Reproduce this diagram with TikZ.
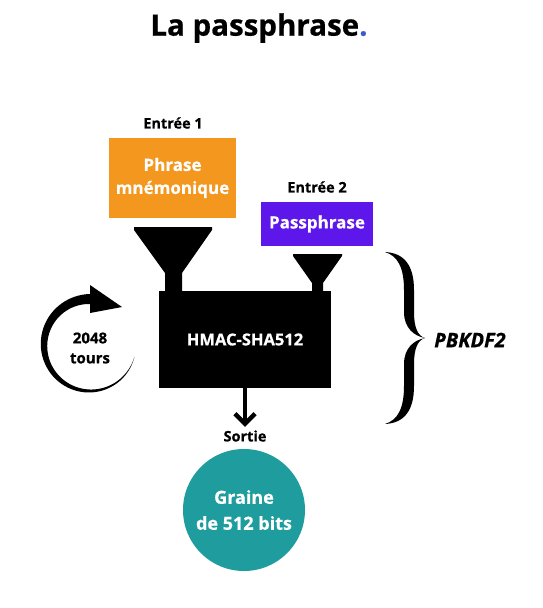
\documentclass[tikz,border=0pt]{standalone}
\usepackage{fontspec}
\setmainfont{Open Sans}[BoldFeatures={FakeBold=0.6}, BoldItalicFeatures={FakeBold=0.6}]
\usetikzlibrary{arrows.meta}
\definecolor{orangephrase}{HTML}{F4971F}
\definecolor{violetpass}{HTML}{5E17EB}
\definecolor{tealgraine}{HTML}{1E9C9E}
\definecolor{bleupoint}{HTML}{3B5BC8}

\begin{document}
\begin{tikzpicture}[x=1pt, y=1pt,
		entree/.style={font=\bfseries\fontsize{14.5}{16}\selectfont},
		boite/.style={fill=#1, text=white, align=center, inner sep=0pt, font=\bfseries\fontsize{17}{23}\selectfont}]
			%%%%% START %%%%%
			\useasboundingbox[fill=white] (0,0) rectangle (542,-608);
			
			\node[font=\bfseries\fontsize{29.5}{32}\selectfont] (titre) at (259,-28) {La passphrase\textcolor{bleupoint}{.}};
			
			% entrees
			\node[entree] (entree1) at (173,-123) {Entrée 1};
			\node[boite=orangephrase, minimum width=127, minimum height=80] (phrase) at (172.5,-178) {Phrase\\mnémonique};
			\node[entree] (entree2) at (317,-187) {Entrée 2};
			\node[boite=violetpass, minimum width=112, minimum height=44] (pass) at (317,-224) {Passphrase};
			
			% entonnoirs
			\fill (134,-227) -- (212,-227) -- (212,-230) -- (182,-273) -- (182,-292) -- (165,-292) -- (165,-273) -- (134,-230) -- cycle;
			\fill (293,-254) -- (342,-254) -- (342,-256) -- (323,-283) -- (323,-292) -- (312,-292) -- (312,-283) -- (293,-256) -- cycle;
			
			\node[fill=black, text=white, minimum width=172, minimum height=97, inner sep=0pt, font=\bfseries\fontsize{16.5}{20}\selectfont] (hmac) at (245,-339.5) {HMAC-SHA512};
			
			% tours
			\begin{scope}[shift={(90,-345)}]
				\fill plot[domain=-15:-270, samples=60] (\x:{46+5*(-15-\x)/255}) -- (90:60) -- (32,38) -- (90:32) -- plot[domain=-270:-15, samples=60] (\x:{46-5*(-15-\x)/255}) -- cycle;
			\end{scope}
			\node[align=center, font=\bfseries\fontsize{15}{20}\selectfont] (tours) at (90,-348) {2048\\tours};
			
			% accolade
			\begin{scope}[shift={(0,-338)}]
				\foreach \s in {1,-1}{
					\fill[yscale=\s] (385,86) .. controls (404,85) and (414,73) .. (414,48) -- (414,26) .. controls (414,10) and (418,2) .. (425,0) .. controls (414,2) and (404,10) .. (404,26) -- (404,48) .. controls (404,70) and (398,82) .. (385,86) -- cycle;
				}
			\end{scope}
			\node[font=\bfseries\itshape\fontsize{20}{22}\selectfont] (pbkdf) at (470,-340) {PBKDF2};
			
			% sortie
			\node[entree] (sortie) at (245,-436) {Sortie};
			\draw[line width=4, -{Straight Barb[length=10, width=20, line width=4.5]}] (hmac.south) -- (sortie.north);
			\node[circle, fill=tealgraine, minimum size=122, text=white, align=center, inner sep=0pt, font=\bfseries\fontsize{18}{26}\selectfont] (graine) at (244,-510) {Graine\\de 512 bits};
			
			%%%%% END %%%%%
		\end{tikzpicture}
\end{document}
